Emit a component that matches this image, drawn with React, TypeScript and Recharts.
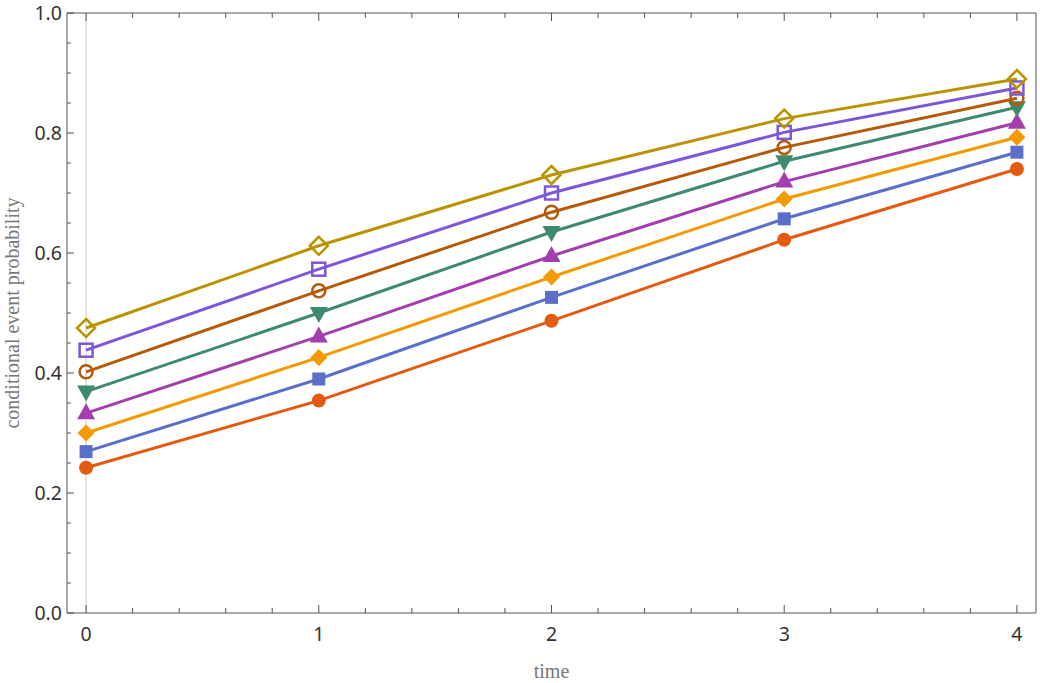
import { Label, Line, LineChart, ReferenceLine, XAxis, YAxis } from 'recharts'

const TIMES = [0, 1, 2, 3, 4]

const RED_CIRCLE = [0.242, 0.354, 0.487, 0.622, 0.74]
const BLUE_SQUARE = [0.269, 0.39, 0.526, 0.657, 0.768]
const ORANGE_DIAMOND = [0.3, 0.426, 0.56, 0.69, 0.793]
const PURPLE_TRIANGLE = [0.333, 0.461, 0.595, 0.719, 0.817]
const GREEN_DOWN = [0.369, 0.5, 0.635, 0.753, 0.843]
const BROWN_RING = [0.402, 0.537, 0.668, 0.776, 0.858]
const VIOLET_OPEN_SQUARE = [0.438, 0.573, 0.7, 0.801, 0.875]
const GOLD_OPEN_DIAMOND = [0.475, 0.612, 0.73, 0.824, 0.89]

const X_TICKS = [0, 0.2, 0.4, 0.6, 0.8, 1, 1.2, 1.4, 1.6, 1.8, 2, 2.2, 2.4, 2.6, 2.8, 3, 3.2, 3.4, 3.6, 3.8, 4]
const Y_TICKS = [
  0, 0.05, 0.1, 0.15, 0.2, 0.25, 0.3, 0.35, 0.4, 0.45, 0.5, 0.55, 0.6, 0.65, 0.7, 0.75, 0.8, 0.85, 0.9,
  0.95, 1,
]

type Shape = 'circle' | 'square' | 'diamond' | 'up' | 'down' | 'ring' | 'openSquare' | 'openDiamond'

const SERIES: { key: string; values: number[]; color: string; shape: Shape }[] = [
  { key: 's1', values: RED_CIRCLE, color: '#e35a10', shape: 'circle' },
  { key: 's2', values: BLUE_SQUARE, color: '#5b6fc8', shape: 'square' },
  { key: 's3', values: ORANGE_DIAMOND, color: '#f29a00', shape: 'diamond' },
  { key: 's4', values: PURPLE_TRIANGLE, color: '#a23eae', shape: 'up' },
  { key: 's5', values: GREEN_DOWN, color: '#3f8a6e', shape: 'down' },
  { key: 's6', values: BROWN_RING, color: '#b55a08', shape: 'ring' },
  { key: 's7', values: VIOLET_OPEN_SQUARE, color: '#7e57d8', shape: 'openSquare' },
  { key: 's8', values: GOLD_OPEN_DIAMOND, color: '#b99400', shape: 'openDiamond' },
]

const data = TIMES.map((t, i) => {
  const row: Record<string, number> = { time: t }
  SERIES.forEach(s => {
    row[s.key] = s.values[i]
  })
  return row
})

const FRAME = '#555'
const TICK_FONT = '"Noto Sans", sans-serif'
const LABEL_FONT = '"Liberation Serif", serif'

function Marker({ cx, cy, color, shape }: { cx: number; cy: number; color: string; shape: Shape }) {
  if (cx == null || cy == null) return null
  switch (shape) {
    case 'circle':
      return <circle cx={cx} cy={cy} r={7} fill={color} />
    case 'square':
      return <rect x={cx - 6.5} y={cy - 6.5} width={13} height={13} fill={color} />
    case 'diamond':
      return <polygon points={`${cx},${cy - 8.5} ${cx + 8.5},${cy} ${cx},${cy + 8.5} ${cx - 8.5},${cy}`} fill={color} />
    case 'up':
      return <polygon points={`${cx},${cy - 10} ${cx + 9},${cy + 6} ${cx - 9},${cy + 6}`} fill={color} />
    case 'down':
      return <polygon points={`${cx},${cy + 10} ${cx + 9},${cy - 6} ${cx - 9},${cy - 6}`} fill={color} />
    case 'ring':
      return <circle cx={cx} cy={cy} r={6.5} fill="none" stroke={color} strokeWidth={2.5} />
    case 'openSquare':
      return (
        <rect x={cx - 6.5} y={cy - 6.5} width={13} height={13} fill="none" stroke={color} strokeWidth={2.5} />
      )
    case 'openDiamond':
      return (
        <polygon
          points={`${cx},${cy - 9} ${cx + 9},${cy} ${cx},${cy + 9} ${cx - 9},${cy}`}
          fill="none"
          stroke={color}
          strokeWidth={2.5}
        />
      )
  }
}

const isWhole = (v: number, step: number) => Math.abs(v / step - Math.round(v / step)) < 1e-6

function BottomTick(props: any) {
  const { x, y, payload } = props
  const major = isWhole(payload.value, 1)
  return (
    <g>
      <line x1={x} x2={x} y1={y} y2={y - (major ? 8 : 5)} stroke={FRAME} />
      {major && (
        <text x={x} y={y + 28} textAnchor="middle" fontFamily={TICK_FONT} fontSize={19.5} fill="#333">
          {payload.value}
        </text>
      )}
    </g>
  )
}

function TopTick(props: any) {
  const { x, y, payload } = props
  const major = isWhole(payload.value, 1)
  return <line x1={x} x2={x} y1={y} y2={y + (major ? 8 : 5)} stroke={FRAME} />
}

function LeftTick(props: any) {
  const { x, y, payload } = props
  const major = isWhole(payload.value, 0.2)
  return (
    <g>
      <line x1={x} x2={x + (major ? 7 : 4)} y1={y} y2={y} stroke={FRAME} />
      {major && (
        <text x={x - 5} y={y + 7} textAnchor="end" fontFamily={TICK_FONT} fontSize={19.5} fill="#333">
          {payload.value.toFixed(1)}
        </text>
      )}
    </g>
  )
}

function RightTick(props: any) {
  const { x, y, payload } = props
  const major = isWhole(payload.value, 0.2)
  return <line x1={x} x2={x - (major ? 7 : 4)} y1={y} y2={y} stroke={FRAME} />
}

export default function App() {
  return (
    <div style={{ position: 'absolute', left: 0, top: 0, width: 1040, height: 683, background: '#fff' }}>
      <LineChart width={1040} height={683} data={data} margin={{ top: 0, right: 0, bottom: 0, left: 0 }}>
        <XAxis
          xAxisId="bottom"
          dataKey="time"
          type="number"
          domain={[-0.082, 4.082]}
          allowDataOverflow
          ticks={X_TICKS}
          interval={0}
          height={70}
          tickSize={0}
          tickMargin={0}
          tickLine={false}
          tick={<BottomTick />}
          axisLine={{ stroke: FRAME }}
        >
          <Label
            value="time"
            position="insideBottom"
            offset={5}
            style={{ fontFamily: LABEL_FONT, fontSize: 20, fill: '#777' }}
          />
        </XAxis>
        <XAxis
          xAxisId="top"
          orientation="top"
          dataKey="time"
          type="number"
          domain={[-0.082, 4.082]}
          allowDataOverflow
          ticks={X_TICKS}
          interval={0}
          height={13}
          tickSize={0}
          tickMargin={0}
          tickLine={false}
          tick={<TopTick />}
          axisLine={{ stroke: FRAME }}
        />
        <YAxis
          yAxisId="left"
          type="number"
          domain={[0, 1]}
          ticks={Y_TICKS}
          interval={0}
          width={67}
          tickSize={0}
          tickMargin={0}
          tickLine={false}
          tick={<LeftTick />}
          axisLine={{ stroke: FRAME }}
        >
          <Label
            value="conditional event probability"
            angle={-90}
            position="insideLeft"
            offset={12}
            style={{ fontFamily: LABEL_FONT, fontSize: 20, fill: '#777', textAnchor: 'middle' }}
          />
        </YAxis>
        <YAxis
          yAxisId="right"
          orientation="right"
          type="number"
          domain={[0, 1]}
          ticks={Y_TICKS}
          interval={0}
          width={4}
          tickSize={0}
          tickMargin={0}
          tickLine={false}
          tick={<RightTick />}
          axisLine={{ stroke: FRAME }}
        />
        <ReferenceLine xAxisId="bottom" yAxisId="left" x={0} stroke="#ccc" strokeWidth={1} />
        {SERIES.map(s => (
          <Line
            key={s.key}
            xAxisId="bottom"
            yAxisId="left"
            dataKey={s.key}
            type="linear"
            stroke={s.color}
            strokeWidth={3}
            isAnimationActive={false}
            dot={(p: any) => <Marker key={`${s.key}-${p.index}`} cx={p.cx} cy={p.cy} color={s.color} shape={s.shape} />}
            activeDot={false}
          />
        ))}
      </LineChart>
    </div>
  )
}
